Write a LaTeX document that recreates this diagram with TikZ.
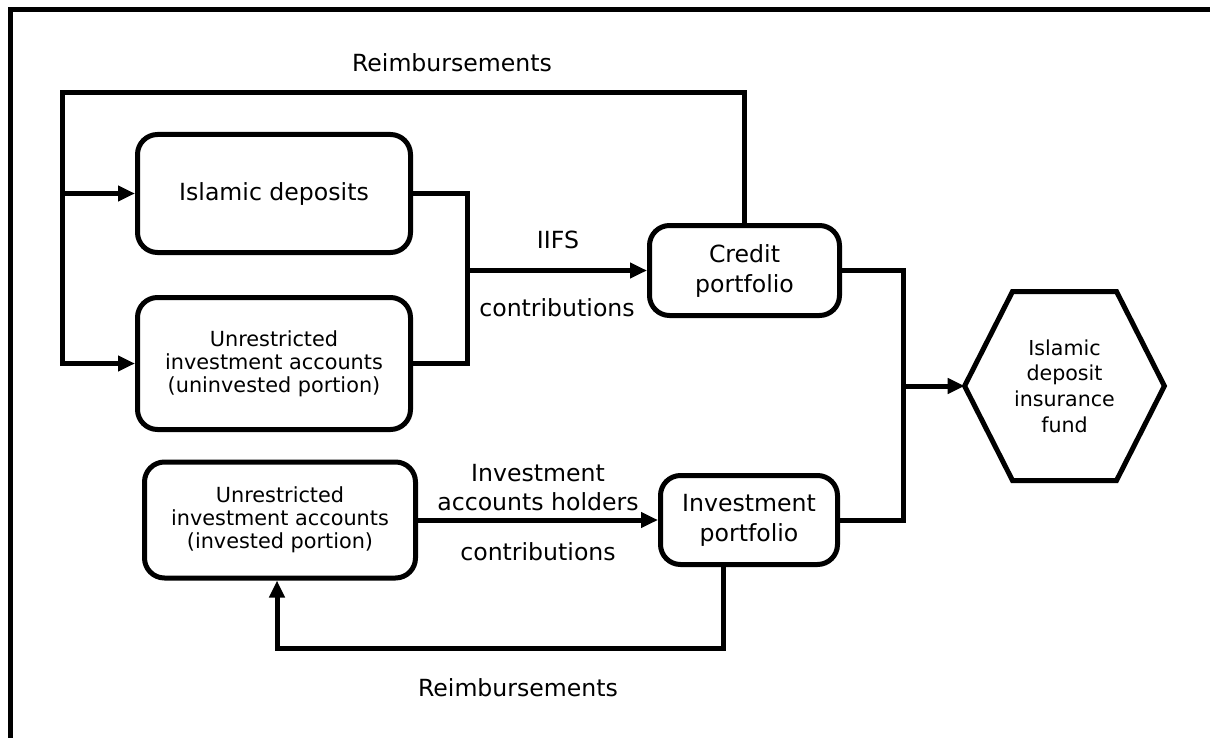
\documentclass[tikz,border=0pt]{standalone}
\usepackage{fontspec}
\setmainfont{DejaVu Sans}
\usepackage{tikz}
\usetikzlibrary{arrows.meta,calc}
\begin{document}
\begin{tikzpicture}[x=0.5pt,y=-0.5pt,line join=miter,>={Triangle[length=8.5pt,width=7.5pt]},
  every node/.style={inner sep=0pt,align=center},
  box/.style={draw,line width=2.5pt,rounded corners=10pt,font=\fontsize{11.8}{15}\selectfont},
  smallbox/.style={box,font=\fontsize{10.4}{11.6}\selectfont},
  link/.style={line width=2.5pt},
  lbl/.style={font=\fontsize{11.8}{14.5}\selectfont}]
\useasboundingbox (0,0) rectangle (1210,738);
\draw [link] (8,10)-- (1210,10);
\draw [link] (10,8)-- (10,738);
\node [box,minimum width=136.5pt,minimum height=59pt] (deposits) at (274,193.5) {Islamic deposits};
\node [smallbox,minimum width=136.5pt,minimum height=66pt] (uninv) at (274,363.5) {Unrestricted\\investment accounts\\(uninvested portion)};
\node [smallbox,minimum width=135.5pt,minimum height=58pt] (inv) at (280,520) {Unrestricted\\investment accounts\\(invested portion)};
\node [box,minimum width=95pt,minimum height=45pt] (credit) at (744.5,270.5) {Credit\\portfolio};
\node [box,minimum width=88.5pt,minimum height=44.5pt] (invport) at (749,520) {Investment\\portfolio};
\node [font=\fontsize{10.3}{12.8}\selectfont,minimum width=99.5pt] (fund) at (1064.5,386) {Islamic\\deposit\\insurance\\fund};
\draw [link] (fund.west)-- ($(fund.center)+(-52,-94.5)$)-- ($(fund.center)+(52,-94.5)$)-- (fund.east)-- ($(fund.center)+(52,94.5)$)-- ($(fund.center)+(-52,94.5)$)-- cycle;
\coordinate (topL) at (62,93);
\coordinate (joinA) at (467,270.5);
\coordinate (joinB) at (903,386);
\coordinate (botL) at (277,648);
\draw [link,->] (credit.north) |- (topL) |- (uninv.west);
\draw [link,->] (topL |- deposits.west)-- (deposits.west);
\draw [link] (deposits.east) -| (joinA |- uninv.east)-- (uninv.east);
\draw [link,->] (joinA)-- (credit.west);
\draw [link] (credit.east) -| (joinB |- invport.east)-- (invport.east);
\draw [link,->] (joinB)-- (fund.west);
\draw [link,->] (inv.east)-- (invport.west);
\draw [link,->] ([xshift=-13pt]invport.south) |- (botL)-- (inv.south -| botL);
\node [lbl] (topnote) at (452,63) {Reimbursements};
\node [lbl] (iifs) at (558,240) {IIFS};
\node [lbl] (contribA) at (557,308) {contributions};
\node [lbl] (iah) at (538,488) {Investment\\accounts holders};
\node [lbl] (contribB) at (538,552) {contributions};
\node [lbl] (botnote) at (518,688) {Reimbursements};
\end{tikzpicture}
\end{document}
